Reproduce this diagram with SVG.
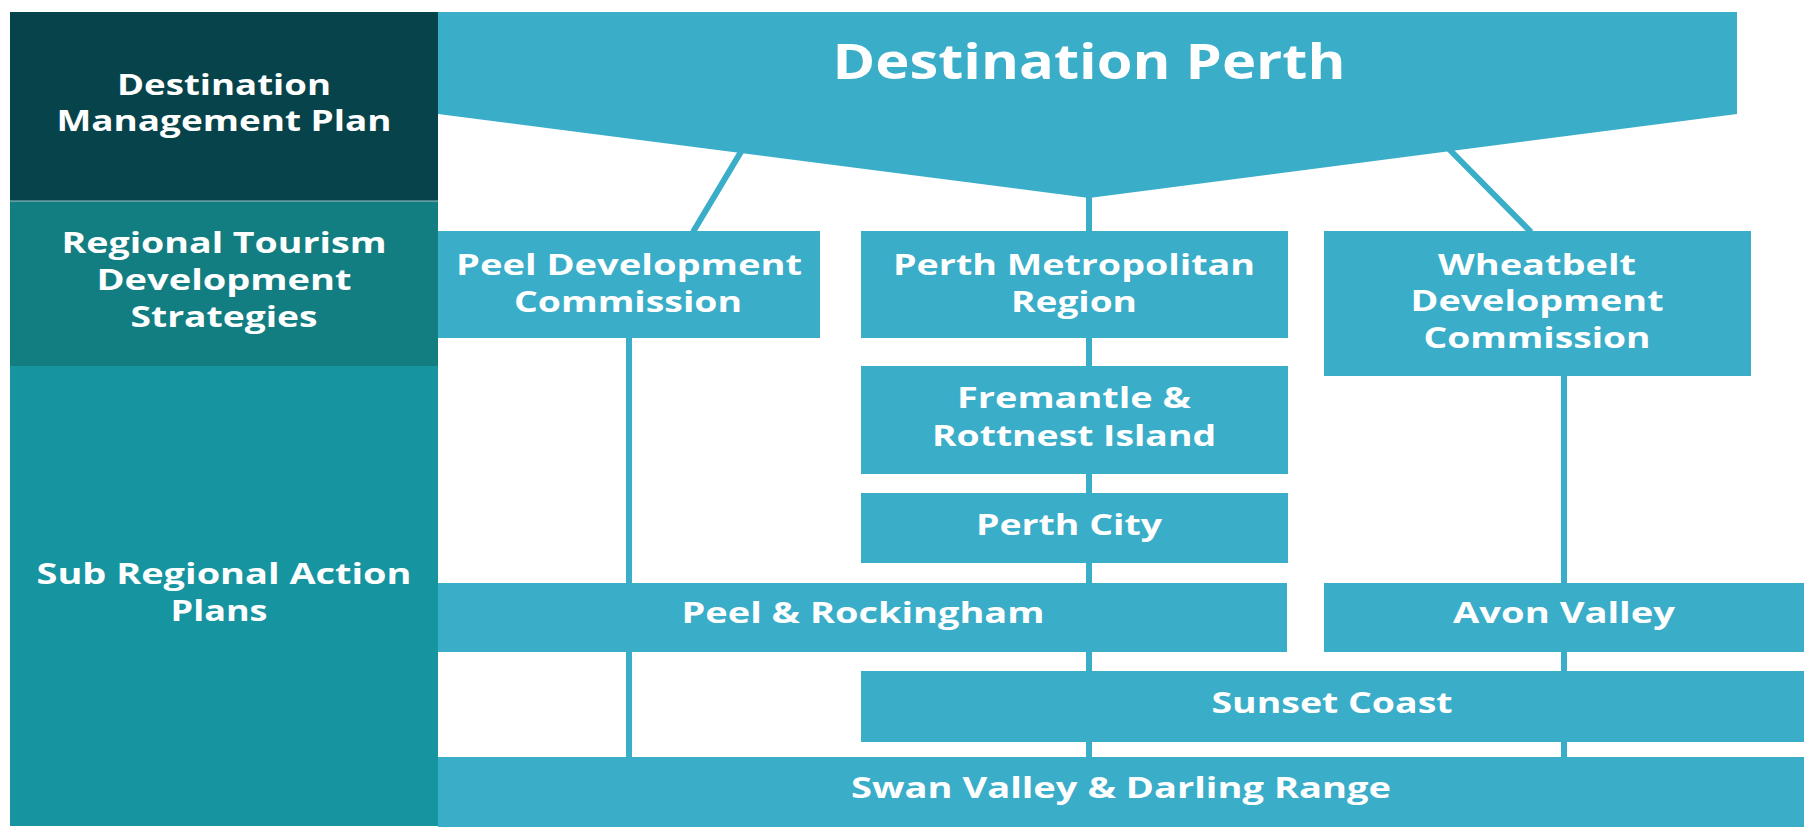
<svg xmlns="http://www.w3.org/2000/svg" width="1817" height="838" viewBox="0 0 1817 838">
<style>
.box{fill:#3aadc9;}
.t{font-family:"Open Sans","Liberation Sans",sans-serif;font-weight:700;font-size:28px;fill:#ffffff;text-anchor:middle;}
.title{font-size:49px;}
.conn{stroke:#3aadc9;stroke-width:6;fill:none;}
</style>
<rect x="0" y="0" width="1817" height="838" fill="#ffffff"/>
<g id="connectors">
<line class="conn" x1="748" y1="140" x2="693" y2="232"/>
<line class="conn" x1="1443" y1="143" x2="1531" y2="232"/>
<line class="conn" x1="1089" y1="190" x2="1089" y2="758"/>
<line class="conn" x1="629" y1="330" x2="629" y2="758"/>
<line class="conn" x1="1564" y1="370" x2="1564" y2="758"/>
</g>
<g id="level-dmp">
<rect x="10" y="12" width="428" height="189" fill="#07434a"/>
<text class="t" x="224" y="95" textLength="214" lengthAdjust="spacingAndGlyphs">Destination</text>
<text class="t" x="224" y="131" textLength="335" lengthAdjust="spacingAndGlyphs">Management Plan</text>
</g>
<g id="level-rtds">
<rect x="10" y="201" width="428" height="165" fill="#127e81"/>
<line x1="10" y1="201" x2="438" y2="201" stroke="#9cc3c6" stroke-width="1"/>
<text class="t" x="224" y="253" textLength="325" lengthAdjust="spacingAndGlyphs">Regional Tourism</text>
<text class="t" x="224" y="290" textLength="255" lengthAdjust="spacingAndGlyphs">Development</text>
<text class="t" x="224" y="327" textLength="187" lengthAdjust="spacingAndGlyphs">Strategies</text>
</g>
<g id="level-srap">
<rect x="10" y="366" width="428" height="460" fill="#16949f"/>
<text class="t" x="224" y="584" textLength="375" lengthAdjust="spacingAndGlyphs">Sub Regional Action</text>
<text class="t" x="219" y="621" textLength="97" lengthAdjust="spacingAndGlyphs">Plans</text>
</g>
<g id="destination-perth">
<polygon class="box" points="438,12 1737,12 1737,114 1089,198 438,114"/>
<text class="t title" x="1089" y="79" textLength="513" lengthAdjust="spacingAndGlyphs">Destination Perth</text>
</g>
<g id="peel-dc">
<rect class="box" x="438" y="231" width="382" height="107"/>
<text class="t" x="629" y="275" textLength="346" lengthAdjust="spacingAndGlyphs">Peel Development</text>
<text class="t" x="628" y="312" textLength="228" lengthAdjust="spacingAndGlyphs">Commission</text>
</g>
<g id="perth-metro">
<rect class="box" x="861" y="231" width="427" height="107"/>
<text class="t" x="1074" y="275" textLength="362" lengthAdjust="spacingAndGlyphs">Perth Metropolitan</text>
<text class="t" x="1074" y="312" textLength="126" lengthAdjust="spacingAndGlyphs">Region</text>
</g>
<g id="wheatbelt-dc">
<rect class="box" x="1324" y="231" width="427" height="145"/>
<text class="t" x="1537" y="275" textLength="198" lengthAdjust="spacingAndGlyphs">Wheatbelt</text>
<text class="t" x="1537" y="311" textLength="253" lengthAdjust="spacingAndGlyphs">Development</text>
<text class="t" x="1537" y="348" textLength="227" lengthAdjust="spacingAndGlyphs">Commission</text>
</g>
<g id="fremantle">
<rect class="box" x="861" y="366" width="427" height="108"/>
<text class="t" x="1074" y="408" textLength="234" lengthAdjust="spacingAndGlyphs">Fremantle &amp;</text>
<text class="t" x="1074" y="446" textLength="284" lengthAdjust="spacingAndGlyphs">Rottnest Island</text>
</g>
<g id="perth-city">
<rect class="box" x="861" y="493" width="427" height="70"/>
<text class="t" x="1069" y="535" textLength="186" lengthAdjust="spacingAndGlyphs">Perth City</text>
</g>
<g id="peel-rockingham">
<rect class="box" x="438" y="583" width="849" height="69"/>
<text class="t" x="863" y="623" textLength="363" lengthAdjust="spacingAndGlyphs">Peel &amp; Rockingham</text>
</g>
<g id="avon-valley">
<rect class="box" x="1324" y="583" width="480" height="69"/>
<text class="t" x="1564" y="623" textLength="222" lengthAdjust="spacingAndGlyphs">Avon Valley</text>
</g>
<g id="sunset-coast">
<rect class="box" x="861" y="671" width="943" height="71"/>
<text class="t" x="1332" y="713" textLength="241" lengthAdjust="spacingAndGlyphs">Sunset Coast</text>
</g>
<g id="swan-valley">
<rect class="box" x="438" y="757" width="1366" height="70"/>
<text class="t" x="1121" y="798" textLength="540" lengthAdjust="spacingAndGlyphs">Swan Valley &amp; Darling Range</text>
</g>
</svg>
